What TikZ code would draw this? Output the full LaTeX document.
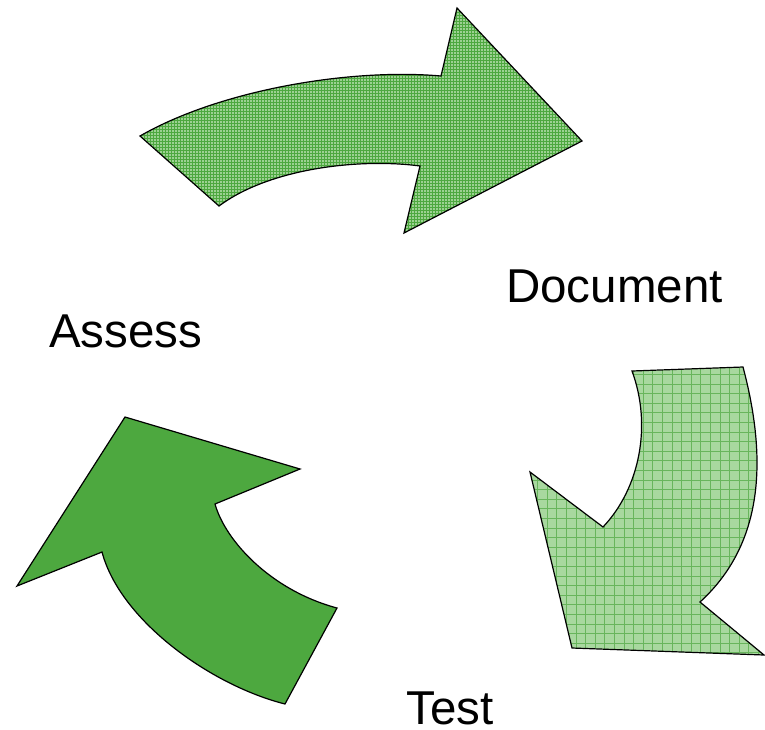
\documentclass[tikz,border=0pt]{standalone}
\usepackage{fontspec}
\setmainfont{Liberation Sans}
\usepackage{xcolor}
\usepackage{tikz}
\usetikzlibrary{positioning}
\definecolor{leafgreen}{HTML}{4DA83F}
\definecolor{palegreen}{HTML}{A8D89F}
\definecolor{midgreen}{HTML}{9CD192}
\tikzset{
  label text/.style={inner sep=0pt, anchor=base west, font=\fontsize{47.5}{56}\selectfont},
  fine grid/.style={fill=midgreen, path picture={
      \draw[leafgreen, line width=0.6pt, step=3pt]
      (path picture bounding box.south west) grid (path picture bounding box.north east);}},
  coarse grid/.style={fill=palegreen, path picture={
      \draw[leafgreen!85, line width=0.7pt, step=9.6pt]
      (path picture bounding box.south west) grid (path picture bounding box.north east);}}
}

\begin{document}
\begin{tikzpicture}[x=1pt, y=-1pt]
\useasboundingbox (0,0) rectangle (765,729);

% top arrow
\draw[line width=1.2pt, fine grid] (140,136)
.. controls (220,90) and (350,68) .. (441,76)
-- (457,8) -- (582,141) -- (404,233) -- (420,166)
.. controls (360,158) and (270,168) .. (219,206) -- cycle;

% right arrow
\draw[line width=1.2pt, coarse grid] (743,367)
.. controls (765,450) and (768,540) .. (700,602)
-- (764,655) -- (572,648) -- (530,472) -- (603,527)
.. controls (640,488) and (652,425) .. (632,371) -- cycle;

% left arrow
\draw[line width=1.2pt, fill=leafgreen] (125,417)
-- (300,469) -- (215,504)
.. controls (225,540) and (270,590) .. (337,608)
-- (285,704)
.. controls (210,685) and (120,620) .. (102,552)
-- (17,586) -- cycle;

\node[label text] (document) at (506,302) {Document};
\node[label text] (assess) at (49,347) {Assess};
\node[label text] (test) at (406,724) {Test};

\end{tikzpicture}
\end{document}
